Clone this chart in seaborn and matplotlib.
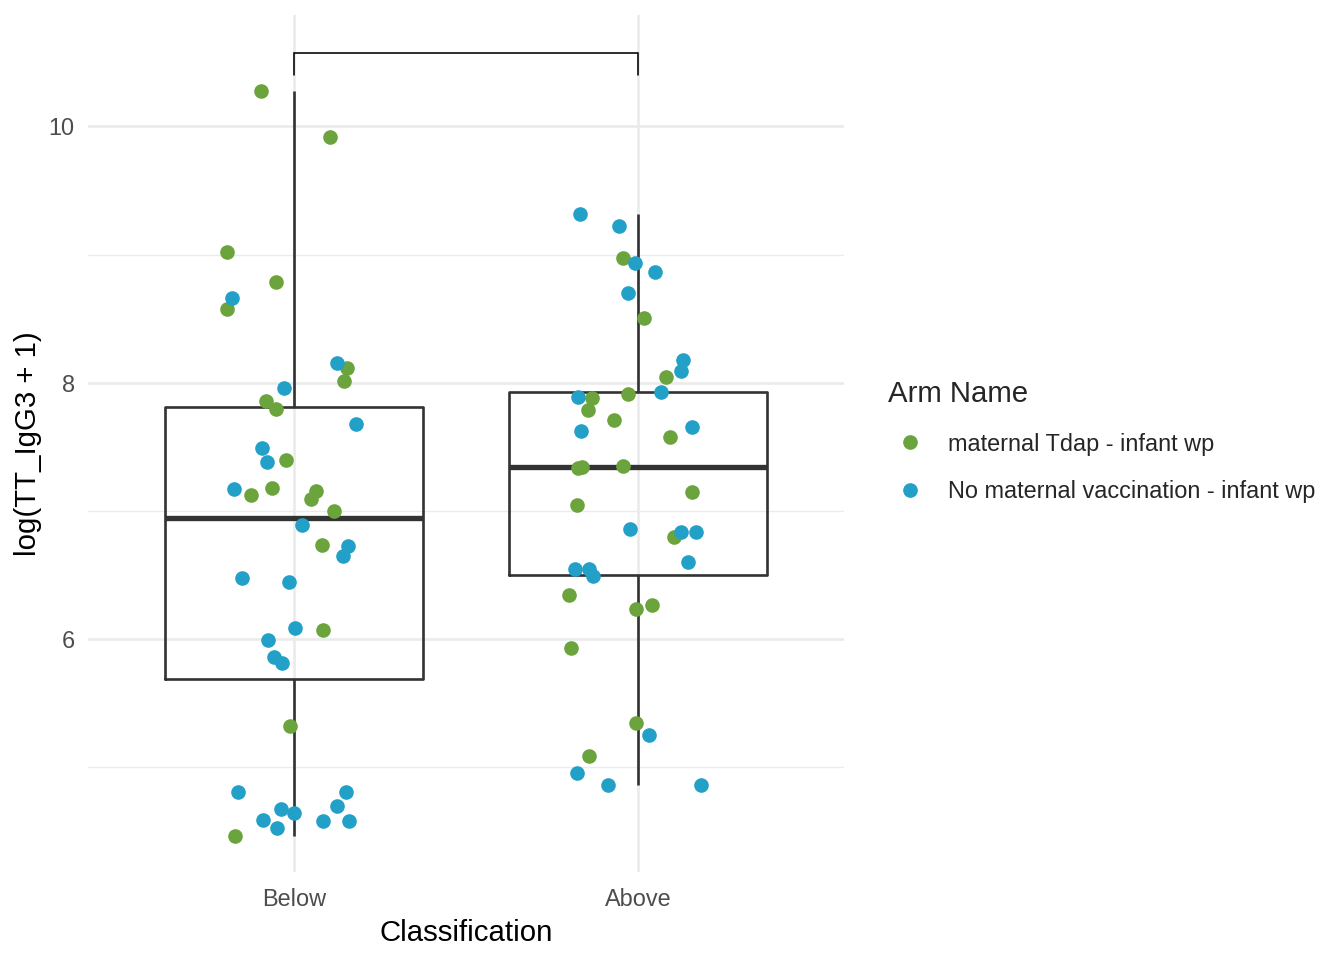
import numpy as np
import pandas as pd
import matplotlib
matplotlib.use("Agg")
import matplotlib.pyplot as plt
from matplotlib.lines import Line2D
from matplotlib.ticker import FixedLocator
import seaborn as sns

# categories and groups
classes = ["Below", "Above"]
arms = ["maternal Tdap - infant wp", "No maternal vaccination - infant wp"]
arm_colors = ["#6BA33C", "#22A0C8"]

# values, with the horizontal jitter offsets (fraction of category spacing)
below_tdap = [10.273, 9.914, 9.018, 8.784, 8.573, 8.113, 8.012, 7.856, 7.793, 7.396,
              7.177, 7.123, 7.154, 7.092, 6.998, 6.733, 6.070, 5.322, 4.464]
below_tdap_jit = [-0.096, 0.105, -0.195, -0.052, -0.195, 0.154, 0.145, -0.081, -0.052, -0.023,
                  -0.064, -0.125, 0.064, 0.049, 0.116, 0.081, 0.084, -0.012, -0.172]
below_none = [8.659, 8.152, 7.957, 7.676, 7.489, 7.380, 7.170, 6.889, 6.725, 6.647,
              6.476, 6.444, 6.086, 5.992, 5.860, 5.813, 4.807, 4.807, 4.698, 4.674,
              4.643, 4.589, 4.581, 4.581, 4.526]
below_none_jit = [-0.180, 0.125, -0.029, 0.180, -0.093, -0.078, -0.174, 0.023, 0.157, 0.142,
                  -0.151, -0.015, 0.003, -0.076, -0.058, -0.035, -0.163, 0.151, 0.125, -0.038,
                  0.0, -0.090, 0.084, 0.160, -0.049]
above_tdap = [8.973, 8.501, 8.048, 7.913, 7.879, 7.786, 7.713, 7.580, 7.336, 7.344,
              7.351, 7.144, 7.043, 6.798, 6.346, 6.265, 6.231, 5.932, 5.343, 5.088]
above_tdap_jit = [-0.044, 0.017, 0.081, -0.028, -0.134, -0.145, -0.069, 0.094, -0.175, -0.162,
                  -0.043, 0.159, -0.178, 0.105, -0.199, 0.040, -0.005, -0.195, -0.004, -0.143]
above_none = [9.316, 9.223, 8.932, 8.867, 8.700, 8.175, 8.095, 7.931, 7.892, 7.655,
              7.624, 6.860, 6.832, 6.837, 6.603, 6.548, 6.545, 6.490, 5.249, 4.955,
              4.859, 4.859]
above_none_jit = [-0.167, -0.056, -0.008, 0.049, -0.028, 0.132, 0.127, 0.068, -0.174, 0.159,
                  -0.165, -0.023, 0.125, 0.169, 0.146, -0.184, -0.142, -0.131, 0.032, -0.178,
                  -0.087, 0.184]

frames = []
for cls, arm, vals, jit in [
    ("Below", arms[0], below_tdap, below_tdap_jit),
    ("Below", arms[1], below_none, below_none_jit),
    ("Above", arms[0], above_tdap, above_tdap_jit),
    ("Above", arms[1], above_none, above_none_jit),
]:
    frames.append(pd.DataFrame({"Classification": cls, "Arm Name": arm,
                                "value": vals, "jitter": jit}))
df = pd.concat(frames, ignore_index=True)
df["xpos"] = df["Classification"].map({c: i for i, c in enumerate(classes)}) + df["jitter"]

sns.set_theme(style="white")
plt.rcParams["font.family"] = ["Liberation Sans", "DejaVu Sans"]

fig = plt.figure(figsize=(7, 5), dpi=192)
ax = fig.add_axes([0.0655, 0.0917, 0.5625, 0.8923])

sns.boxplot(data=df, x="Classification", y="value", order=classes, ax=ax,
            fill=False, color="#333333", width=0.75, showfliers=False, showcaps=False,
            linewidth=1.0, whis=1.5,
            medianprops={"linewidth": 2.0, "color": "#333333"},
            boxprops={"color": "#333333"}, whiskerprops={"color": "#333333"})

for arm, col in zip(arms, arm_colors):
    sub = df[df["Arm Name"] == arm]
    ax.scatter(sub["xpos"], sub["value"], s=30, color=col, linewidths=0, zorder=3)

# significance bracket
ax.plot([0, 0, 1, 1], [10.40, 10.57, 10.57, 10.40], color="black", lw=0.6,
        solid_joinstyle="miter", zorder=4)

ax.set_xlim(-0.6, 1.6)
ax.set_ylim(4.183, 10.866)
ax.yaxis.set_major_locator(FixedLocator([6, 8, 10]))
ax.yaxis.set_minor_locator(FixedLocator([5, 7, 9]))
ax.grid(True, which="major", color="#EBEBEB", lw=1.0, zorder=0)
ax.grid(True, which="minor", axis="y", color="#EBEBEB", lw=0.5, zorder=0)
ax.set_axisbelow(True)
for sp in ax.spines.values():
    sp.set_visible(False)
ax.tick_params(axis="both", which="both", length=0, labelsize=8.8, colors="#4D4D4D")
ax.tick_params(axis="x", pad=6)
ax.tick_params(axis="y", pad=5)
ax.set_xlabel("Classification", fontsize=11, color="black", labelpad=3)
ax.set_ylabel("log(TT_IgG3 + 1)", fontsize=11, color="black", labelpad=2.5)

handles = [Line2D([], [], marker="o", linestyle="", markersize=5.5,
                  markerfacecolor=c, markeredgewidth=0) for c in arm_colors]
leg = fig.legend(handles, arms, title="Arm Name", loc="center left",
                 bbox_to_anchor=(0.645, 0.54), frameon=False, fontsize=8.8,
                 title_fontsize=11, handlelength=1.88, handletextpad=0.66,
                 labelspacing=1.05, alignment="left")

fig.savefig("out.png", dpi=192, facecolor="white")
